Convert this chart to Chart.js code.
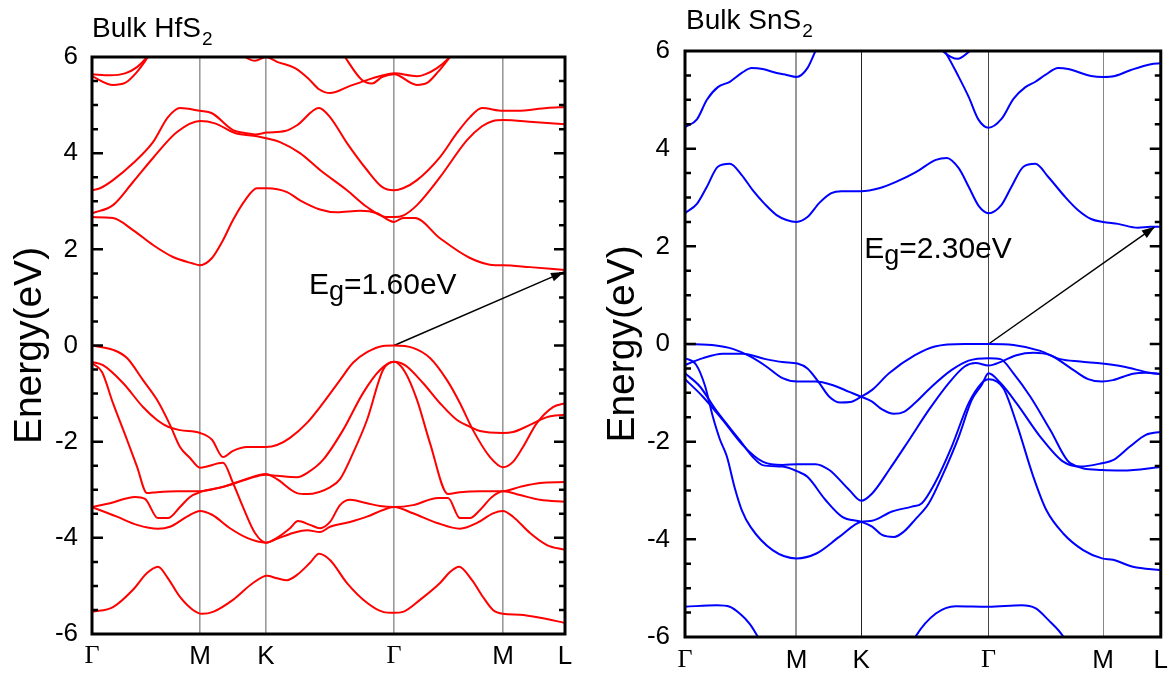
<!DOCTYPE html>
<html>
<head>
<meta charset="utf-8">
<style>
  html, body { margin: 0; padding: 0; background: #fff; }
  #wrap { position: relative; width: 1176px; height: 677px; }
  .panel { position: absolute; top: 0; }
  #left { left: 0; }
  #right { left: 590px; }
</style>
</head>
<body>
<div id="wrap">
  <div class="panel" id="left"><canvas id="hfs" width="590" height="677"></canvas></div>
  <div class="panel" id="right"><canvas id="sns" width="586" height="677"></canvas></div>
</div>
<script src="https://cdn.jsdelivr.net/npm/chart.js@4.4.1/dist/chart.umd.min.js"></script>
<script>
// k-path positions (arbitrary path-length units) and their labels
var hfsK = [0, 1.08, 1.74, 3.02, 4.11, 4.73];
var snsK = [0, 1.12, 1.77, 3.05, 4.20, 4.78];
var kLabels = ['Γ', 'M', 'K', 'Γ', 'M', 'L'];
var eTicks = [-6, -4, -2, 0, 2, 4, 6];

// ---- bulk HfS2 bands, [k, E(eV)] ----
var hfsC5a = [[0,5.64],[0.18,5.62],[0.33,5.66],[0.45,5.79],[0.55,6.0],[0.6,6.15]];
var hfsC5b = [[0,5.6],[0.21,5.42],[0.33,5.46],[0.45,5.69],[0.56,6.0],[0.6,6.12]];
var hfsC5c = [[1.48,6.08],[1.53,6.0],[1.63,5.92],[1.74,6.0],[1.85,5.9],[2.03,5.77],[2.16,5.56],[2.27,5.33],[2.38,5.25],[2.58,5.4],[2.75,5.52],[2.91,5.62],[3.02,5.66],[3.25,5.6],[3.33,5.64],[3.45,5.77],[3.58,6.0],[3.62,6.1]];
var hfsC5d = [[2.5,6.1],[2.53,6.0],[2.7,5.52],[2.8,5.45],[2.9,5.58],[3.02,5.64],[3.25,5.42],[3.35,5.46],[3.46,5.69],[3.58,6.0],[3.62,6.1]];
var hfsC3 = [[0,3.23],[0.08,3.27],[0.21,3.44],[0.41,3.79],[0.61,4.23],[0.76,4.75],[0.88,4.94],[1.08,4.88],[1.2,4.83],[1.41,4.48],[1.53,4.42],[1.63,4.39],[1.75,4.43],[1.93,4.46],[2.05,4.58],[2.27,4.94],[2.38,4.75],[2.55,4.21],[2.75,3.65],[2.9,3.3],[3.02,3.23],[3.11,3.27],[3.25,3.44],[3.48,3.92],[3.65,4.42],[3.78,4.75],[3.9,4.94],[4.11,4.88],[4.25,4.88],[4.55,4.94],[4.73,4.96]];
var hfsC2 = [[0,2.75],[0.21,2.92],[0.41,3.4],[0.61,3.9],[0.85,4.44],[1.08,4.67],[1.23,4.62],[1.43,4.42],[1.65,4.35],[1.74,4.31],[1.88,4.23],[2.08,4.0],[2.28,3.65],[2.55,3.23],[2.75,2.88],[2.95,2.67],[3.02,2.67],[3.11,2.7],[3.25,2.92],[3.48,3.5],[3.75,4.27],[3.9,4.56],[4.01,4.67],[4.11,4.69],[4.41,4.65],[4.73,4.6]];
var hfsC1 = [[0,2.67],[0.21,2.65],[0.41,2.4],[0.61,2.09],[0.81,1.84],[1.0,1.71],[1.08,1.67],[1.2,1.82],[1.31,2.19],[1.41,2.61],[1.53,3.02],[1.65,3.27],[1.75,3.27],[1.95,3.19],[2.08,3.02],[2.28,2.83],[2.45,2.77],[2.68,2.8],[2.85,2.75],[3.02,2.57],[3.11,2.65],[3.23,2.65],[3.48,2.23],[3.78,1.82],[4.03,1.67],[4.11,1.67],[4.38,1.63],[4.73,1.57]];
var hfsV1 = [[0,0],[0.21,-0.09],[0.35,-0.26],[0.51,-0.72],[0.65,-1.13],[0.78,-1.65],[0.88,-2.11],[0.98,-2.34],[1.08,-2.54],[1.31,-2.44],[1.41,-2.86],[1.51,-3.36],[1.63,-3.9],[1.74,-4.1],[1.85,-4.02],[2.01,-3.9],[2.15,-3.84],[2.28,-3.88],[2.38,-3.77],[2.58,-3.67],[2.75,-3.56],[2.91,-3.42],[3.02,-3.36],[3.21,-3.49],[3.45,-3.69],[3.68,-3.81],[3.85,-3.69],[4.01,-3.49],[4.11,-3.44],[4.21,-3.56],[4.38,-3.9],[4.55,-4.15],[4.73,-4.25]];
var hfsV2 = [[0,-0.34],[0.11,-0.41],[0.31,-0.78],[0.51,-1.28],[0.65,-1.55],[0.76,-1.69],[0.88,-1.76],[1.08,-1.82],[1.2,-1.96],[1.31,-2.32],[1.41,-2.19],[1.55,-2.11],[1.74,-2.11],[1.85,-2.07],[1.98,-1.92],[2.15,-1.61],[2.31,-1.2],[2.48,-0.72],[2.61,-0.36],[2.75,-0.14],[2.91,-0.01],[3.02,0],[3.21,-0.05],[3.38,-0.26],[3.55,-0.72],[3.68,-1.2],[3.81,-1.76],[3.98,-2.32],[4.11,-2.53],[4.21,-2.42],[4.31,-2.11],[4.45,-1.61],[4.61,-1.28],[4.73,-1.2]];
var hfsV3 = [[0,-0.37],[0.1,-0.55],[0.21,-1.2],[0.35,-1.96],[0.45,-2.52],[0.55,-3.07],[0.65,-3.05],[0.85,-3.03],[1.08,-3.03],[1.25,-2.97],[1.41,-2.88],[1.58,-2.76],[1.74,-2.69],[1.85,-2.71],[2.05,-2.74],[2.16,-2.64],[2.31,-2.38],[2.51,-1.76],[2.71,-0.99],[2.88,-0.51],[3.02,-0.34],[3.13,-0.55],[3.25,-1.13],[3.38,-2.03],[3.56,-3.09],[3.68,-3.05],[3.88,-3.03],[4.11,-3.03],[4.28,-2.94],[4.48,-2.86],[4.73,-2.84]];
var hfsV4 = [[0,-3.36],[0.18,-3.28],[0.43,-3.15],[0.53,-3.19],[0.66,-3.59],[0.76,-3.59],[0.88,-3.36],[0.98,-3.15],[1.08,-3.05],[1.31,-2.94],[1.51,-2.8],[1.74,-2.67],[1.85,-2.78],[2.05,-3.07],[2.15,-3.09],[2.38,-2.95],[2.48,-2.78],[2.61,-2.24],[2.75,-1.55],[2.91,-0.51],[3.02,-0.34],[3.13,-0.41],[3.31,-0.78],[3.48,-1.2],[3.65,-1.55],[3.78,-1.69],[3.88,-1.78],[4.11,-1.82],[4.21,-1.8],[4.38,-1.65],[4.55,-1.49],[4.73,-1.44]];
var hfsV5 = [[0,-3.36],[0.25,-3.56],[0.45,-3.73],[0.66,-3.81],[0.78,-3.77],[0.95,-3.56],[1.08,-3.44],[1.2,-3.52],[1.38,-3.8],[1.55,-4.0],[1.74,-4.1],[1.85,-4.0],[1.98,-3.8],[2.06,-3.65],[2.18,-3.73],[2.28,-3.8],[2.38,-3.67],[2.48,-3.32],[2.58,-3.21],[2.75,-3.28],[2.88,-3.34],[3.02,-3.36],[3.21,-3.32],[3.46,-3.17],[3.56,-3.17],[3.68,-3.59],[3.78,-3.59],[3.88,-3.42],[4.0,-3.15],[4.11,-3.03],[4.28,-3.11],[4.48,-3.21],[4.73,-3.25]];
var hfsV6 = [[0,-5.54],[0.21,-5.44],[0.41,-5.08],[0.55,-4.73],[0.66,-4.6],[0.75,-4.81],[0.88,-5.23],[1.01,-5.5],[1.1,-5.58],[1.21,-5.54],[1.41,-5.29],[1.61,-4.94],[1.75,-4.79],[1.85,-4.84],[1.95,-4.88],[2.05,-4.77],[2.18,-4.52],[2.27,-4.33],[2.38,-4.46],[2.55,-4.94],[2.75,-5.35],[2.91,-5.54],[3.02,-5.56],[3.11,-5.54],[3.28,-5.29],[3.48,-4.94],[3.58,-4.71],[3.67,-4.6],[3.8,-4.88],[3.91,-5.23],[4.01,-5.5],[4.11,-5.58],[4.28,-5.6],[4.48,-5.66],[4.73,-5.77]];
var hfsGap = [[3.02,0],[4.72,1.53]];

// ---- bulk SnS2 bands, [k, E(eV)] ----
var snsC3 = [[0,4.44],[0.12,4.6],[0.22,5.0],[0.33,5.26],[0.45,5.37],[0.57,5.55],[0.67,5.65],[0.78,5.63],[0.92,5.55],[1.02,5.51],[1.12,5.47],[1.23,5.65],[1.31,6.0],[1.34,6.15]];
var snsC2 = [[2.55,6.15],[2.62,5.96],[2.75,5.47],[2.85,5.06],[2.95,4.59],[3.05,4.43],[3.18,4.61],[3.3,5.02],[3.42,5.26],[3.52,5.37],[3.62,5.51],[3.75,5.65],[3.85,5.63],[4.08,5.49],[4.2,5.47],[4.32,5.49],[4.48,5.61],[4.68,5.73],[4.78,5.75]];
var snsC2b = [[2.56,6.08],[2.6,5.98],[2.74,5.84],[2.85,5.98],[2.9,6.08]];
var snsC1 = [[0,2.68],[0.12,2.87],[0.22,3.22],[0.33,3.63],[0.45,3.69],[0.57,3.46],[0.68,3.15],[0.8,2.87],[0.92,2.64],[1.02,2.54],[1.12,2.5],[1.23,2.6],[1.35,2.89],[1.47,3.09],[1.57,3.13],[1.77,3.13],[1.95,3.19],[2.12,3.32],[2.32,3.52],[2.52,3.77],[2.63,3.81],[2.75,3.6],[2.85,3.22],[2.95,2.83],[3.05,2.68],[3.18,2.85],[3.28,3.22],[3.4,3.63],[3.52,3.69],[3.65,3.42],[3.82,3.01],[3.95,2.74],[4.08,2.56],[4.2,2.5],[4.35,2.46],[4.55,2.38],[4.68,2.4],[4.78,2.4]];
var snsVA = [[0,0],[0.31,-0.03],[0.48,-0.1],[0.65,-0.25],[0.81,-0.45],[0.98,-0.7],[1.13,-0.77],[1.31,-0.77],[1.48,-0.84],[1.65,-0.98],[1.77,-1.08],[1.88,-1.18],[1.98,-1.34],[2.1,-1.43],[2.2,-1.39],[2.31,-1.21],[2.48,-0.87],[2.68,-0.53],[2.85,-0.34],[3.05,-0.29],[3.17,-0.31],[3.3,-0.6],[3.47,-1.08],[3.67,-1.76],[3.87,-2.44],[4.19,-2.58],[4.4,-2.59],[4.78,-2.52]];
var snsVB = [[0,-0.43],[0.18,-0.29],[0.38,-0.2],[0.58,-0.2],[0.81,-0.31],[0.98,-0.37],[1.13,-0.4],[1.23,-0.5],[1.35,-0.8],[1.45,-1.08],[1.56,-1.2],[1.66,-1.19],[1.77,-1.08],[1.88,-0.94],[2.05,-0.6],[2.31,-0.23],[2.51,-0.05],[2.81,0],[3.05,0],[3.3,-0.02],[3.57,-0.14],[3.77,-0.31],[3.97,-0.36],[4.19,-0.4],[4.4,-0.46],[4.67,-0.59],[4.78,-0.62]];
var snsVD = [[0,-0.29],[0.11,-0.42],[0.2,-0.85],[0.28,-1.49],[0.35,-1.95],[0.42,-2.3],[0.5,-2.95],[0.57,-3.4],[0.66,-3.75],[0.88,-4.22],[1.12,-4.39],[1.32,-4.29],[1.55,-3.95],[1.77,-3.64],[1.88,-3.62],[2.08,-3.43],[2.28,-3.33],[2.38,-3.26],[2.51,-2.85],[2.68,-2.1],[2.85,-1.21],[2.98,-0.8],[3.05,-0.72],[3.2,-0.91],[3.33,-1.62],[3.5,-2.72],[3.63,-3.4],[3.8,-3.88],[4.0,-4.22],[4.19,-4.39],[4.3,-4.42],[4.5,-4.56],[4.78,-4.63]];
var snsVE = [[0,-0.6],[0.15,-0.87],[0.31,-1.35],[0.55,-1.97],[0.68,-2.31],[0.78,-2.48],[0.98,-2.51],[1.13,-2.61],[1.23,-2.72],[1.41,-3.19],[1.58,-3.54],[1.77,-3.64],[1.88,-3.74],[1.98,-3.91],[2.1,-3.95],[2.2,-3.84],[2.31,-3.6],[2.45,-3.26],[2.58,-2.72],[2.75,-1.9],[2.88,-1.15],[2.98,-0.84],[3.05,-0.6],[3.17,-0.8],[3.33,-1.21],[3.57,-1.9],[3.8,-2.41],[3.97,-2.51],[4.19,-2.44],[4.3,-2.38],[4.47,-2.1],[4.63,-1.86],[4.78,-1.8]];
var snsVF = [[0,-0.72],[0.18,-1.08],[0.38,-1.56],[0.58,-2.07],[0.78,-2.41],[0.98,-2.48],[1.13,-2.46],[1.31,-2.46],[1.45,-2.58],[1.65,-2.99],[1.77,-3.21],[1.88,-3.06],[2.05,-2.58],[2.25,-1.97],[2.45,-1.35],[2.65,-0.8],[2.81,-0.46],[2.92,-0.39],[3.05,-0.44],[3.18,-0.36],[3.33,-0.23],[3.5,-0.18],[3.67,-0.23],[3.9,-0.53],[4.05,-0.72],[4.19,-0.77],[4.3,-0.74],[4.5,-0.61],[4.63,-0.59],[4.78,-0.61]];
var snsV6a = [[0,-5.38],[0.32,-5.35],[0.45,-5.38],[0.55,-5.52],[0.65,-5.73],[0.73,-5.99],[0.8,-6.27]];
var snsV6b = [[2.25,-6.27],[2.32,-5.98],[2.52,-5.52],[2.72,-5.37],[3.05,-5.38],[3.38,-5.35],[3.52,-5.41],[3.65,-5.65],[3.8,-5.99],[3.87,-6.27]];
var snsGap = [[3.05,0],[4.72,2.4]];

var sans = '"Liberation Sans", Arial, sans-serif';
var serif = '"Liberation Serif", "Times New Roman", serif';

function put(ctx, t, x, y, size) {
    ctx.font = size + 'px ' + sans;
    ctx.fillText(t, x, y);
    return x + ctx.measureText(t).width;
}

// frame + inward ticks on both sides
var framePlugin = {
    id: 'frame',
    afterDatasetsDraw: function (chart, args, o) {
        var ctx = chart.ctx, a = chart.chartArea, y = chart.scales.y;
        ctx.save();
        ctx.strokeStyle = '#000';
        ctx.lineWidth = 2.5;
        for (var v = -5.5; v < 6; v += 0.5) {
            var py = y.getPixelForValue(v);
            var len = (v % 2 === 0) ? o.major : o.minor;
            ctx.beginPath();
            ctx.moveTo(a.left, py); ctx.lineTo(a.left + len, py);
            ctx.moveTo(a.right, py); ctx.lineTo(a.right - len, py);
            ctx.stroke();
        }
        ctx.lineWidth = 3;
        ctx.strokeRect(a.left, a.top, a.right - a.left, a.bottom - a.top);
        ctx.restore();
    }
};

var arrowPlugin = {
    id: 'arrowHead',
    afterDatasetsDraw: function (chart) {
        var ctx = chart.ctx;
        chart.data.datasets.forEach(function (ds, i) {
            if (!ds.arrow) return;
            var pts = chart.getDatasetMeta(i).data;
            var p = pts[pts.length - 2], q = pts[pts.length - 1];
            var ang = Math.atan2(q.y - p.y, q.x - p.x);
            ctx.save();
            ctx.translate(q.x, q.y);
            ctx.rotate(ang);
            ctx.beginPath();
            ctx.moveTo(0, 0); ctx.lineTo(-13, -4.5); ctx.lineTo(-13, 4.5);
            ctx.closePath();
            ctx.fillStyle = '#000';
            ctx.fill();
            ctx.restore();
        });
    }
};

var textPlugin = {
    id: 'panelText',
    afterDraw: function (chart, args, o) {
        var ctx = chart.ctx, a = chart.chartArea;
        ctx.save();
        ctx.fillStyle = '#000';
        ctx.textBaseline = 'alphabetic';
        var tx = put(ctx, o.title, a.left + o.titleDx, o.titleY, 28);
        put(ctx, o.titleSub, tx + 1, o.titleY + 8, 19);
        var ex = chart.scales.x.getPixelForValue(o.gapK);
        var ey = chart.scales.y.getPixelForValue(o.gapE);
        ex = put(ctx, 'E', ex, ey, 30);
        ex = put(ctx, 'g', ex, ey + 6, 27);
        put(ctx, o.gapText, ex, ey, 30);
        ctx.restore();
    }
};

function bandSets(bands, color) {
    return bands.map(function (b) {
        return {
            data: b.map(function (p) { return { x: p[0], y: p[1] }; }),
            borderColor: color,
            borderWidth: 2,
            pointRadius: 0,
            fill: false,
            cubicInterpolationMode: 'monotone'
        };
    });
}

function makePanel(id, kPos, bands, gap, color, lay) {
    var sets = bandSets(bands, color);
    sets.push({
        data: gap.map(function (p) { return { x: p[0], y: p[1] }; }),
        borderColor: '#000', borderWidth: 1.5, pointRadius: 0, tension: 0, arrow: true
    });
    new Chart(document.getElementById(id), {
        type: 'line',
        data: { datasets: sets },
        plugins: [framePlugin, arrowPlugin, textPlugin],
        options: {
            responsive: false,
            animation: false,
            layout: { padding: { top: lay.top, right: lay.right, bottom: 0, left: 0 } },
            plugins: {
                legend: { display: false },
                tooltip: { enabled: false },
                frame: { major: 11, minor: 6 },
                panelText: lay.text
            },
            scales: {
                x: {
                    type: 'linear',
                    min: kPos[0],
                    max: kPos[kPos.length - 1],
                    afterBuildTicks: function (s) {
                        s.ticks = kPos.map(function (v) { return { value: v }; });
                    },
                    afterFit: function (s) { s.height = lay.xh; },
                    border: { display: false },
                    grid: {
                        drawTicks: false,
                        color: function (c) { return lay.gridColor[c.index] || 'rgba(0,0,0,0)'; },
                        lineWidth: function (c) { return lay.gridWidth[c.index] || 0; }
                    },
                    ticks: {
                        autoSkip: false,
                        maxRotation: 0,
                        padding: lay.xpad,
                        color: '#000',
                        font: function (c) {
                            return { family: kLabels[c.index] === 'Γ' ? serif : sans, size: 26 };
                        },
                        callback: function (v, i) { return kLabels[i]; }
                    }
                },
                y: {
                    min: -6,
                    max: 6,
                    afterBuildTicks: function (s) {
                        s.ticks = eTicks.map(function (v) { return { value: v }; });
                    },
                    afterFit: function (s) { s.width = lay.yw; },
                    border: { display: false },
                    grid: { display: false },
                    ticks: {
                        padding: lay.ypad,
                        color: '#000',
                        font: { family: sans, size: 26 },
                        callback: function (v) { return String(v); }
                    },
                    title: {
                        display: true,
                        text: 'Energy(eV)',
                        color: '#000',
                        font: { family: sans, size: 39 },
                        padding: { top: lay.ttl, bottom: 0 }
                    }
                }
            }
        }
    });
}

makePanel('hfs', hfsK,
    [hfsC5a, hfsC5b, hfsC5c, hfsC5d, hfsC3, hfsC2, hfsC1, hfsV1, hfsV2, hfsV3, hfsV4, hfsV5, hfsV6],
    hfsGap, '#ff0000', {
        top: 57, right: 25, xh: 43, yw: 92, xpad: 7, ypad: 6, ttl: 7,
        gridColor: [null, '#9a9a9a', '#9a9a9a', '#9a9a9a', '#9a9a9a', null],
        gridWidth: [0, 1.6, 1.6, 1.6, 1.6, 0],
        text: { title: 'Bulk HfS', titleSub: '2', titleDx: 0, titleY: 37, gapK: 2.17, gapE: 1.07, gapText: '=1.60eV' }
    });

makePanel('sns', snsK,
    [snsC3, snsC2, snsC2b, snsC1, snsVA, snsVB, snsVD, snsVE, snsVF, snsV6a, snsV6b],
    snsGap, '#0000ff', {
        top: 51, right: 13, xh: 40, yw: 95, xpad: 8, ypad: 7, ttl: 10,
        gridColor: [null, '#999999', '#222222', '#444444', '#888888', null],
        gridWidth: [0, 2, 1, 1, 1, 0],
        text: { title: 'Bulk SnS', titleSub: '2', titleDx: 1, titleY: 29, gapK: 1.80, gapE: 1.76, gapText: '=2.30eV' }
    });
</script>
</body>
</html>
